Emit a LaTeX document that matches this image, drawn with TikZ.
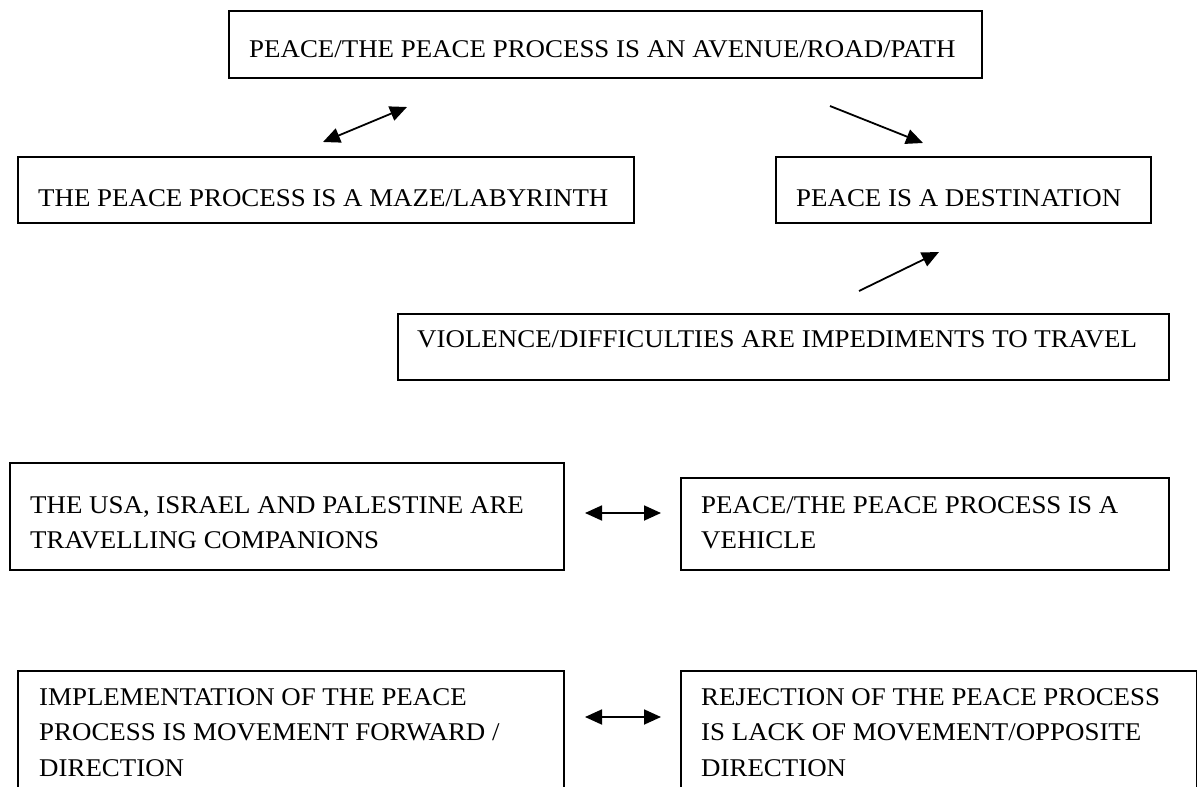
\documentclass[tikz,border=0pt]{standalone}
\usepackage{fontspec}
\setmainfont{Liberation Serif}[FakeStretch=1.055]
\usetikzlibrary{arrows.meta}
\newcommand\mlines[1]{\parbox[t]{600pt}{\raggedright #1}}
\begin{document}
\fontsize{25.5pt}{35.5pt}\selectfont
\begin{tikzpicture}[x=1pt,y=-1pt,
  box/.style={draw, line width=1.8pt, rectangle, inner sep=0pt, anchor=north west},
  lbl/.style={inner sep=0pt, anchor=base west},
  link/.style={line width=1.8pt, -{Triangle[length=17pt,width=15pt]}},
  dlink/.style={line width=1.8pt, {Triangle[length=17pt,width=15pt]}-{Triangle[length=17pt,width=15pt]}}]
\useasboundingbox (0,0) rectangle (1197,787);
\begin{scope}
\clip (0,0) rectangle (1197,787);
% boxes
\node[box, minimum width=753pt, minimum height=67pt] (top) at (228,10) {};
\node[box, minimum width=616pt, minimum height=66pt] (maze) at (17,156) {};
\node[box, minimum width=375pt, minimum height=66pt] (dest) at (775,156) {};
\node[box, minimum width=771pt, minimum height=66pt] (viol) at (397,313) {};
\node[box, minimum width=554pt, minimum height=107pt] (usa) at (9,462) {};
\node[box, minimum width=488pt, minimum height=92pt] (veh) at (680,477) {};
\node[box, minimum width=546pt, minimum height=140pt] (impl) at (17,670) {};
\node[box, minimum width=516pt, minimum height=140pt] (rej) at (680,670) {};
\end{scope}
% texts
\node[lbl] (topt) at (249,57) {PEACE/THE PEACE PROCESS IS AN AVENUE/ROAD/PATH};
\node[lbl] (mazet) at (38,206) {THE PEACE PROCESS IS A MAZE/LABYRINTH};
\node[lbl] (destt) at (796,206) {PEACE IS A DESTINATION};
\node[lbl] (violt) at (417,347) {VIOLENCE/DIFFICULTIES ARE IMPEDIMENTS TO TRAVEL};
\node[lbl] (usat) at (30,513) {\mlines{THE USA, ISRAEL AND PALESTINE ARE\\TRAVELLING COMPANIONS}};
\node[lbl] (veht) at (701,513) {\mlines{PEACE/THE PEACE PROCESS IS A\\VEHICLE}};
\node[lbl] (implt) at (39,705) {\mlines{IMPLEMENTATION OF THE PEACE\\PROCESS IS MOVEMENT FORWARD /\\DIRECTION}};
\node[lbl] (rejt) at (701,705) {\mlines{REJECTION OF THE PEACE PROCESS\\IS LACK OF MOVEMENT/OPPOSITE\\DIRECTION}};
% connector end points
\coordinate (a1s) at (323,142); \coordinate (a1e) at (407,107);
\coordinate (a2s) at (830,106); \coordinate (a2e) at (923,143);
\coordinate (a3s) at (859,291); \coordinate (a3e) at (939,252);
\coordinate (a4s) at (585,513); \coordinate (a4e) at (661,513);
\coordinate (a5s) at (585,717); \coordinate (a5e) at (661,717);
\draw[dlink] (a1s) -- (a1e);
\draw[link] (a2s) -- (a2e);
\draw[link] (a3s) -- (a3e);
\draw[dlink] (a4s) -- (a4e);
\draw[dlink] (a5s) -- (a5e);
\end{tikzpicture}
\end{document}
